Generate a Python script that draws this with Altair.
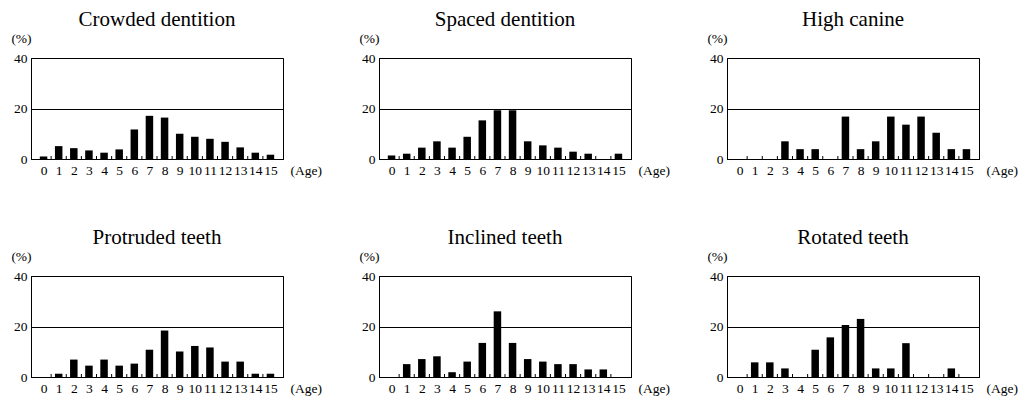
import altair as alt
import pandas as pd

ages = list(range(16))
titles = ["Crowded dentition", "Spaced dentition", "High canine",
          "Protruded teeth", "Inclined teeth", "Rotated teeth"]
crowded = [1.0, 5.1, 4.3, 3.4, 2.5, 3.8, 11.7, 17.1, 16.4, 10.0, 8.8, 8.0, 6.8, 4.6, 2.5, 1.7]
spaced = [1.4, 2.1, 4.5, 7.0, 4.5, 8.8, 15.3, 19.3, 19.3, 7.0, 5.4, 4.5, 2.9, 2.1, 0.0, 2.1]
high_canine = [0.0, 0.0, 0.0, 7.0, 3.9, 3.9, 0.0, 16.8, 3.9, 7.0, 16.8, 13.6, 16.8, 10.4, 3.9, 3.9]
protruded = [0.0, 1.3, 6.9, 4.5, 6.9, 4.5, 5.3, 10.8, 18.4, 10.1, 12.3, 11.7, 6.1, 6.1, 1.3, 1.3]
inclined = [0.0, 5.1, 7.1, 8.2, 1.9, 6.1, 13.5, 26.0, 13.5, 7.1, 6.1, 5.1, 5.1, 3.0, 3.0, 0.0]
rotated = [0.0, 5.8, 5.8, 3.4, 0.0, 10.8, 15.7, 20.6, 23.0, 3.4, 3.4, 13.4, 0.0, 0.0, 3.4, 0.0]
series = [crowded, spaced, high_canine, protruded, inclined, rotated]

W, H = 252, 101
FONT = "Liberation Serif"


def panel(title, values):
    df = pd.DataFrame({"age": ages, "pct": values})
    bounds = pd.DataFrame({"age": [a + 0.5 for a in ages[:-1]]})
    xscale = alt.Scale(domain=[ages[0] - 0.5, ages[-1] + 0.5], nice=False, zero=False)
    xaxis = alt.Axis(values=ages, format="d", ticks=False, grid=False,
                     labelFont=FONT, labelFontSize=13.5, labelColor="black",
                     labelPadding=4, labelFlush=False, labelOverlap=False,
                     domainColor="black",
                     title="(Age)", titleFont=FONT, titleFontSize=13.5,
                     titleFontWeight="normal", titleColor="black",
                     titleAngle=0, titleX=W + 7, titleY=4,
                     titleAlign="left", titleBaseline="top")
    yaxis = alt.Axis(values=[0, 20, 40], grid=True, gridColor="black",
                     gridOpacity=1, ticks=False, domainColor="black",
                     labelFont=FONT, labelFontSize=13.5, labelColor="black",
                     labelPadding=4,
                     title="(%)", titleFont=FONT, titleFontSize=13.5,
                     titleFontWeight="normal", titleColor="black",
                     titleAngle=0, titleX=-10, titleY=-20,
                     titleAlign="center", titleBaseline="middle")
    bars = alt.Chart(df).mark_bar(size=7.5, color="black").encode(
        x=alt.X("age:Q", scale=xscale, axis=xaxis),
        y=alt.Y("pct:Q", scale=alt.Scale(domain=[0, 40], nice=False), axis=yaxis),
    )
    tks = alt.Chart(bounds).mark_rule(color="black", strokeWidth=1).encode(
        x=alt.X("age:Q", scale=xscale, axis=xaxis),
        y=alt.value(H),
        y2=alt.value(H - 3),
    )
    return alt.layer(bars, tks).properties(
        width=W, height=H,
        title=alt.TitleParams(title, font=FONT, fontSize=21, fontWeight="normal",
                              color="black", anchor="middle", frame="group",
                              offset=1),
    )


panels = [panel(t, v) for t, v in zip(titles, series)]
chart = alt.concat(*panels, columns=3, spacing={"row": 117, "column": 96},
                   bounds="flush").properties(
    padding={"left": 10, "top": 8, "right": 5, "bottom": 5},
    background="white",
).configure_view(stroke="black", strokeWidth=1)

chart.save("out.html", embed_options={"renderer": "svg", "actions": False})
